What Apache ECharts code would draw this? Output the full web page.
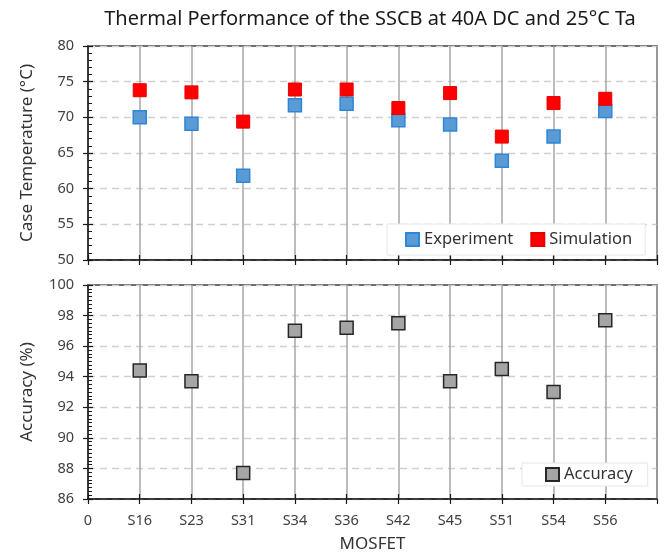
<!DOCTYPE html>
<html>
<head>
<meta charset="utf-8">
<script src="https://cdn.jsdelivr.net/npm/echarts@6/dist/echarts.min.js"></script>
<style>html,body{margin:0;padding:0;background:#fff}#c{width:665px;height:558px}</style>
</head>
<body>
<div id="c"></div>
<script>
const categories = ['S16','S23','S31','S34','S36','S42','S45','S51','S54','S56'];
const experiment = [70.0, 69.1, 61.8, 71.7, 71.9, 69.6, 69.0, 63.9, 67.3, 70.9];
const simulation = [73.8, 73.5, 69.4, 73.9, 73.9, 71.3, 73.4, 67.3, 72.0, 72.6];
const accuracy = [94.4, 93.7, 87.7, 97.0, 97.2, 97.5, 93.7, 94.5, 93.0, 97.7];
const xTickLabels = ['0'].concat(categories);

const FONT = 'Noto Sans';
const toPts = arr => arr.map((v, i) => [i + 1, v]);
const xFmt = v => (v >= 0 && v < xTickLabels.length) ? xTickLabels[v] : '';

function xAxes(gridIndex, showLabels) {
  const base = {
    type: 'value', gridIndex, min: 0, max: 11, interval: 1, position: 'bottom'
  };
  return [
    Object.assign({}, base, {
      axisLine: { show: true, lineStyle: { color: '#1a1a1a', width: 1.5 } },
      axisTick: { show: true, inside: true, length: 5, lineStyle: { color: '#1a1a1a', width: 1.2 } },
      axisLabel: { show: showLabels, formatter: xFmt, color: '#404040', fontSize: 14.5, fontFamily: FONT, margin: 14, showMaxLabel: false },
      splitLine: { show: true, lineStyle: { color: '#a6a6a6', width: 1.5 } },
      name: showLabels ? 'MOSFET' : '',
      nameLocation: 'middle', nameGap: 37,
      nameTextStyle: { color: '#333', fontSize: 17, fontFamily: FONT }
    }),
    Object.assign({}, base, {
      axisLine: { show: false },
      axisTick: { show: true, inside: false, length: 5, lineStyle: { color: '#1a1a1a', width: 1.2 } },
      axisLabel: { show: false },
      splitLine: { show: false }
    })
  ];
}

function yAxes(gridIndex, min, max, interval, minorSplit, name) {
  const base = { type: 'value', gridIndex, min, max, interval, position: 'left' };
  return [
    Object.assign({}, base, {
      axisLine: { show: true, lineStyle: { color: '#1a1a1a', width: 1.5 } },
      axisTick: { show: true, inside: true, length: 5, lineStyle: { color: '#1a1a1a', width: 1.2 } },
      minorTick: { show: true, splitNumber: minorSplit, length: 4, lineStyle: { color: '#1a1a1a', width: 1 } },
      axisLabel: { color: '#404040', fontSize: 14.5, fontFamily: FONT, margin: 14 },
      splitLine: { show: true, lineStyle: { color: '#d0d0d0', width: 1.3, type: [7, 5] } },
      name, nameLocation: 'middle', nameGap: 52,
      nameTextStyle: { color: '#333', fontSize: 17, fontFamily: FONT }
    }),
    Object.assign({}, base, {
      axisLine: { show: false },
      axisTick: { show: true, inside: false, length: 5, lineStyle: { color: '#1a1a1a', width: 1.2 } },
      axisLabel: { show: false },
      splitLine: { show: false }
    })
  ];
}

const option = {
  animation: false,
  backgroundColor: '#fff',
  title: {
    text: 'Thermal Performance of the SSCB at 40A DC and 25\u00b0C Ta',
    left: 365, top: 4, textAlign: 'center',
    textStyle: { fontFamily: FONT, fontSize: 20, fontWeight: 'normal', color: '#1a1a1a' }
  },
  grid: [
    { left: 88, top: 46, width: 569, height: 214, show: true, borderColor: '#404040', borderWidth: 1.5, backgroundColor: 'transparent' },
    { left: 88, top: 285, width: 569, height: 214, show: true, borderColor: '#404040', borderWidth: 1.5, backgroundColor: 'transparent' }
  ],
  xAxis: xAxes(0, false).concat(xAxes(1, true)),
  yAxis: yAxes(0, 50, 80, 5, 5, 'Case Temperature (\u00b0C)').concat(yAxes(1, 86, 100, 2, 8, 'Accuracy (%)')),
  legend: [
    {
      data: ['Experiment', 'Simulation'],
      left: 387, top: 224,
      padding: [7, 13, 7, 18], itemGap: 17, itemWidth: 13, itemHeight: 13,
      backgroundColor: '#fff', borderColor: '#e6e6e6', borderWidth: 1,
      textStyle: { fontFamily: FONT, fontSize: 16.5, color: '#333' }
    },
    {
      data: ['Accuracy'],
      left: 522, top: 463,
      padding: [3, 15, 3, 23], itemWidth: 13, itemHeight: 13,
      backgroundColor: '#fff', borderColor: '#e6e6e6', borderWidth: 1,
      textStyle: { fontFamily: FONT, fontSize: 16.5, color: '#333' }
    }
  ],
  series: [
    {
      name: 'Experiment', type: 'scatter', xAxisIndex: 0, yAxisIndex: 0,
      symbol: 'rect', symbolSize: 13, data: toPts(experiment),
      itemStyle: { color: '#5b9bd5', borderColor: '#2e86d6', borderWidth: 1.5, opacity: 1 }, z: 3
    },
    {
      name: 'Simulation', type: 'scatter', xAxisIndex: 0, yAxisIndex: 0,
      symbol: 'rect', symbolSize: 13, data: toPts(simulation),
      itemStyle: { color: '#ff0000', borderColor: '#e60000', borderWidth: 1, opacity: 1 }, z: 4
    },
    {
      name: 'Accuracy', type: 'scatter', xAxisIndex: 2, yAxisIndex: 2,
      symbol: 'rect', symbolSize: 13, data: toPts(accuracy),
      itemStyle: { color: '#a5a5a5', borderColor: '#262626', borderWidth: 1.5, opacity: 1 }, z: 3
    }
  ]
};

const chart = echarts.init(document.getElementById('c'), null, { renderer: 'canvas' });
chart.setOption(option);
</script>
</body>
</html>
